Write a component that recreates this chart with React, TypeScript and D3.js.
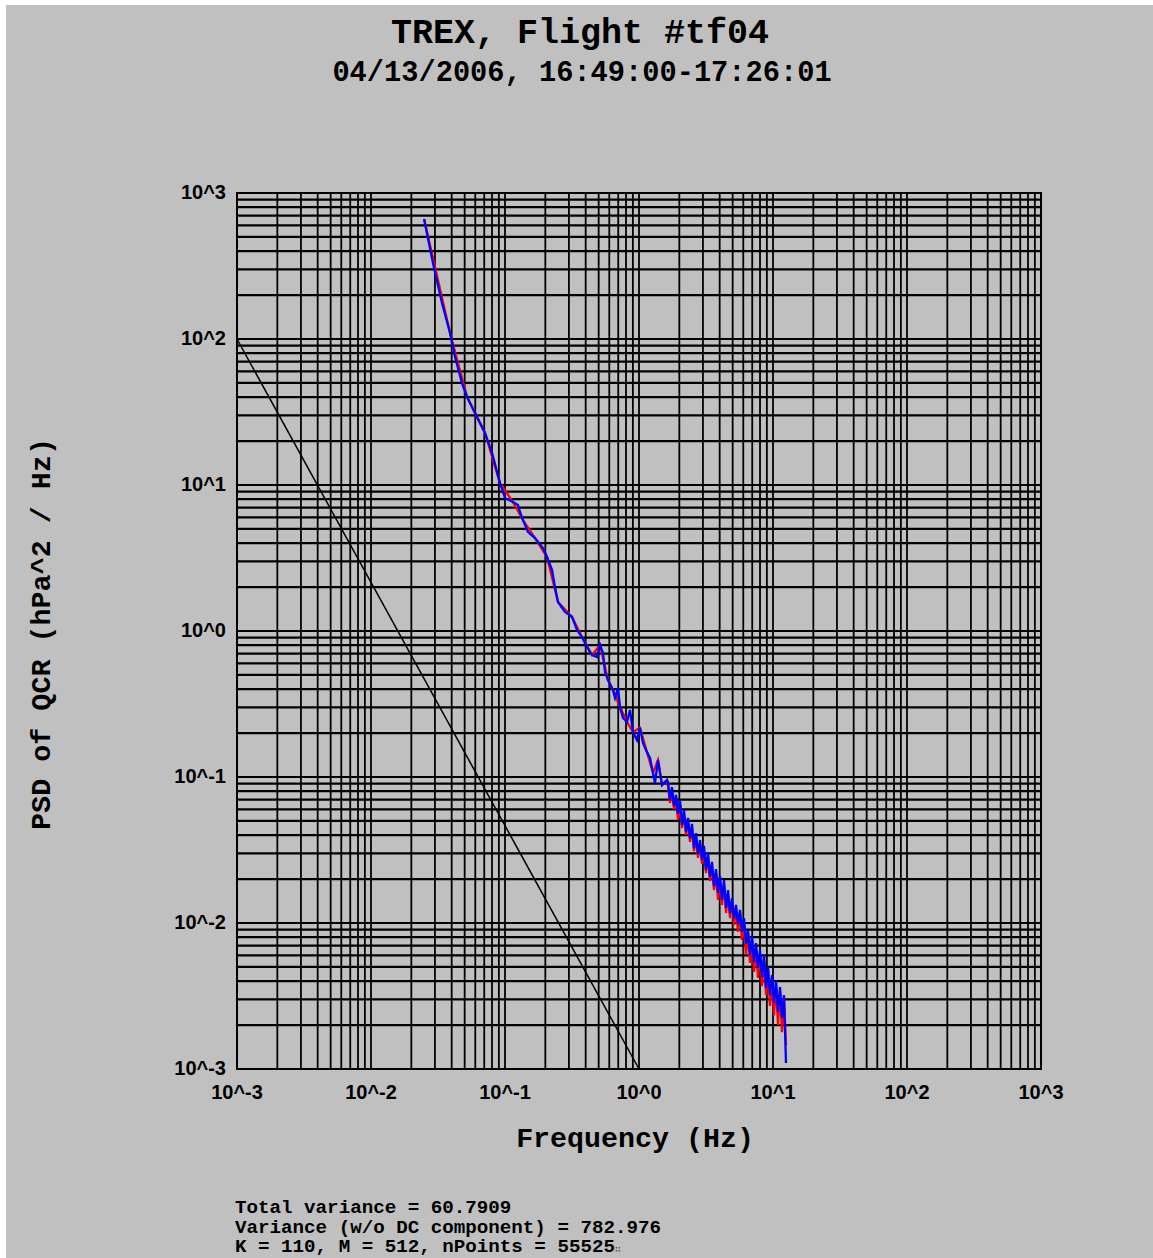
import React from "react";
import * as d3 from "d3";

const W = 1153;
const H = 1258;

// low-frequency part of the blue spectrum (Hz, hPa^2/Hz)
const lowFreq = [
  0.0249, 0.029, 0.0339, 0.0389, 0.0424, 0.0478, 0.0521, 0.0618, 0.0709, 0.08,
  0.0918, 0.1, 0.1147, 0.125, 0.1294, 0.1362, 0.1486, 0.1675, 0.1921, 0.2058,
  0.2242, 0.236, 0.2486, 0.2804, 0.3162, 0.3445, 0.3755, 0.409, 0.446, 0.486,
  0.512, 0.5385, 0.5574, 0.587, 0.6397, 0.662, 0.697, 0.7215, 0.7597, 0.8136,
  0.8566, 0.902, 0.966, 1.017, 1.071, 1.147, 1.208, 1.272, 1.316, 1.386,
  1.485, 1.618,
];
const lowBlue = [
  663, 331, 176, 110, 75.3, 49.9, 40.1, 29.2, 22.7, 16.6,
  10.3, 8.15, 7.65, 7.29, 6.53, 5.75, 4.76, 4.33, 3.7, 3.21,
  2.62, 2.0, 1.58, 1.35, 1.25, 1.016, 0.91, 0.777, 0.685, 0.664,
  0.802, 0.707, 0.524, 0.462, 0.394, 0.348, 0.407, 0.302, 0.2535, 0.238,
  0.288, 0.203, 0.179, 0.217, 0.171, 0.148, 0.135, 0.1065, 0.091, 0.1307,
  0.0881, 0.0954,
];

// red spectrum, low-frequency part (coarser)
const redLowFreq = [
  0.0249, 0.0389, 0.0521, 0.0709, 0.0918, 0.1147, 0.1362, 0.1675, 0.2058, 0.2486,
  0.3162, 0.3755, 0.446, 0.512, 0.587, 0.6397, 0.7215, 0.8136, 0.902, 1.017,
  1.147, 1.272, 1.386, 1.485, 1.618,
];
const redLow = [
  663, 110, 40.1, 22.7, 10.3, 7.65, 5.75, 4.33, 3.21, 1.58,
  1.25, 0.91, 0.685, 0.802, 0.462, 0.394, 0.302, 0.238, 0.203, 0.217,
  0.148, 0.1065, 0.1307, 0.0881, 0.0954,
];

// high-frequency band, shared frequencies
const bandFreq = [
  1.646, 1.703, 1.763, 1.825, 1.889, 1.954, 2.023, 2.094, 2.167, 2.243,
  2.321, 2.402, 2.486, 2.573, 2.663, 2.756, 2.852, 2.952, 3.055, 3.162,
  3.273, 3.388, 3.506, 3.629, 3.755, 3.888, 4.023, 4.164, 4.309, 4.461,
  4.616, 4.777, 4.943, 5.117, 5.296, 5.481, 5.672, 5.871, 6.075, 6.288,
  6.507, 6.735, 6.97, 7.214, 7.466, 7.728, 7.998, 8.277, 8.566, 8.866,
  9.177, 9.497, 9.829, 10.17, 10.53, 10.9, 11.28, 11.67, 12.08, 12.5,
];
const bandBlue = [
  0.0924, 0.0696, 0.0854, 0.0633, 0.0753, 0.0558, 0.0696, 0.0469, 0.0594, 0.042,
  0.0524, 0.0382, 0.0477, 0.0326, 0.0413, 0.0297, 0.037, 0.027, 0.0337, 0.0231,
  0.0302, 0.0207, 0.0262, 0.0179, 0.0234, 0.0161, 0.021, 0.0144, 0.0197, 0.0127,
  0.0168, 0.0117, 0.0148, 0.0107, 0.0133, 0.00984, 0.0123, 0.00868, 0.0108, 0.00718,
  0.00896, 0.00604, 0.00815, 0.0054, 0.00729, 0.00492, 0.00653, 0.00427, 0.00604, 0.00359,
  0.005, 0.00321, 0.0044, 0.00283, 0.00401, 0.00246, 0.00364, 0.00224, 0.00321, 0.0011,
];
const bandRed = [
  0.0868, 0.0664, 0.0802, 0.0604, 0.0707, 0.0508, 0.0653, 0.0447, 0.0558, 0.0401,
  0.0492, 0.0359, 0.0447, 0.0311, 0.0388, 0.0279, 0.0348, 0.0254, 0.0316, 0.022,
  0.0283, 0.0194, 0.0246, 0.0168, 0.022, 0.0144, 0.0197, 0.0133, 0.0185, 0.0117,
  0.0158, 0.0108, 0.0139, 0.00969, 0.0125, 0.00868, 0.0115, 0.00765, 0.0102, 0.00604,
  0.00841, 0.00532, 0.00765, 0.00462, 0.00685, 0.0042, 0.00613, 0.0037, 0.00567, 0.00321,
  0.00469, 0.0027, 0.00413, 0.00234, 0.00376, 0.002, 0.00342, 0.00179, 0.00302, 0.00146,
];

// -5/3 reference slope
const refFreq = [0.001, 1];
const refPsd = [100, 0.001];

const decades = [-3, -2, -1, 0, 1, 2, 3];
const tickLabels = ["10^-3", "10^-2", "10^-1", "10^0", "10^1", "10^2", "10^3"];

const statsLines = [
  "Total variance = 60.7909",
  "Variance (w/o DC component) = 782.976",
  "K = 110, M = 512, nPoints = 55525",
];

const zip = (f: number[], p: number[]) => f.map((v, i) => [v, p[i]] as [number, number]);

export default function App() {
  const x = d3.scaleLog().domain([1e-3, 1e3]).range([237, 1041]);
  const y = d3.scaleLog().domain([1e-3, 1e3]).range([1069, 193]);

  const gridVals: number[] = [];
  decades.slice(0, -1).forEach((d) => {
    for (let m = 1; m <= 9; m++) gridVals.push(m * Math.pow(10, d));
  });
  gridVals.push(1e3);

  const path = d3
    .line<[number, number]>()
    .x((d) => x(d[0]))
    .y((d) => y(d[1]));

  const blue = zip(lowFreq, lowBlue).concat(zip(bandFreq, bandBlue));
  const red = zip(redLowFreq, redLow).concat(zip(bandFreq, bandRed));
  const ref = zip(refFreq, refPsd);

  const mono = "'Liberation Mono', 'DejaVu Sans Mono', monospace";
  const sans = "'Liberation Sans', Arial, sans-serif";

  return (
    <svg width={W} height={H} style={{ position: "absolute", left: 0, top: 0 }}>
      <rect x={0} y={0} width={W} height={H} fill="#fff" />
      <rect x={6} y={5} width={W - 6} height={H - 5} fill="#c0c0c0" />

      <text x={580} y={43} textAnchor="middle" fontFamily={mono} fontWeight="bold" fontSize={35}>
        TREX, Flight #tf04
      </text>
      <text x={582} y={81} textAnchor="middle" fontFamily={mono} fontWeight="bold" fontSize={28.7}>
        04/13/2006, 16:49:00-17:26:01
      </text>

      <g stroke="#000" fill="none">
        {gridVals.map((v, i) => (
          <line key={"v" + i} x1={x(v)} x2={x(v)} y1={193} y2={1069} strokeWidth={1.8} />
        ))}
        {gridVals.map((v, i) => (
          <line key={"h" + i} x1={237} x2={1041} y1={y(v)} y2={y(v)} strokeWidth={2.2} />
        ))}
        <rect x={237} y={193} width={804} height={876} strokeWidth={2} />
      </g>

      <path d={path(ref) || ""} fill="none" stroke="#000" strokeWidth={1.5} />
      <path d={path(red) || ""} fill="none" stroke="#ff0000" strokeWidth={2.3} />
      <path d={path(blue) || ""} fill="none" stroke="#0000ff" strokeWidth={2.3} />

      <g fontFamily={sans} fontWeight="bold" fontSize={20}>
        {decades.map((d, i) => (
          <text key={"yl" + d} x={226} y={y(Math.pow(10, d)) + 6} textAnchor="end">
            {tickLabels[i]}
          </text>
        ))}
        {decades.map((d, i) => (
          <text key={"xl" + d} x={x(Math.pow(10, d))} y={1099} textAnchor="middle">
            {tickLabels[i]}
          </text>
        ))}
      </g>

      <text x={635} y={1147} textAnchor="middle" fontFamily={mono} fontWeight="bold" fontSize={28.3}>
        Frequency (Hz)
      </text>
      <text
        transform="translate(50,634) rotate(-90)"
        textAnchor="middle"
        fontFamily={mono}
        fontWeight="bold"
        fontSize={28.4}
      >
        PSD of QCR (hPa^2 / Hz)
      </text>

      <g fontFamily={mono} fontWeight="bold" fontSize={19.2}>
        {statsLines.map((s, i) => (
          <text key={s} x={235} y={1213 + i * 19.5}>
            {s}
            {i === 2 ? <tspan fontSize={9} fill="#555">∷</tspan> : null}
          </text>
        ))}
      </g>
    </svg>
  );
}
